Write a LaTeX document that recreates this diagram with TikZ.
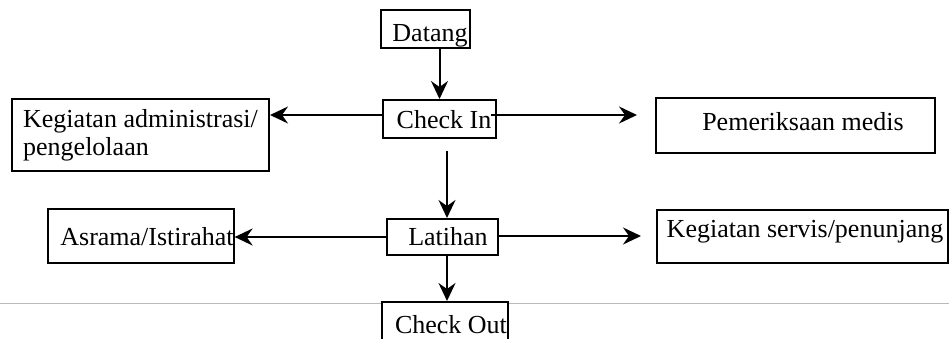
\documentclass[tikz,border=0pt]{standalone}
\usepackage{fontspec}
\setmainfont{Liberation Serif}
\usetikzlibrary{arrows.meta,calc}
% extra space in front of a label, moving it right by half the amount
\newcommand{\lblpad}[1]{\hspace*{#1}}
\begin{document}
\begin{tikzpicture}[x=1pt,y=-1pt,
  box/.style={draw, fill=white, line width=2pt, inner sep=0pt,
              font=\fontsize{26}{28}\selectfont},
  txtbase/.style={text height=#1, text depth=0pt},
  flow/.style={-{Stealth[length=18pt,width=17pt,inset=6pt]}, line width=2pt}]
\clip (0,0) rectangle (949,338);
\fill[white] (0,0) rectangle (949,338);
% page rule running across the lower part
\draw[gray!55, line width=1pt] (0,303) -- (949,303);

% boxes
\node[box, txtbase=24pt, minimum width=89pt,  minimum height=38pt] (datang)  at (425.5,29)    {\lblpad{9pt}Datang};
\node[box, txtbase=18pt, minimum width=113pt, minimum height=38pt] (checkin) at (439.5,119)   {\lblpad{9pt}Check In};
\node[box, minimum width=257pt, minimum height=72pt, align=left] (admin)  at (140.5,135)
     {Kegiatan administrasi/\\pengelolaan};
\node[box, txtbase=9pt,  minimum width=279pt, minimum height=55pt] (medis)   at (795.5,125.5) {\lblpad{15pt}Pemeriksaan medis};
\node[box, txtbase=16pt, minimum width=111pt, minimum height=36pt] (latihan) at (442.5,237)   {\lblpad{11pt}Latihan};
\node[box, txtbase=18pt, minimum width=184pt, minimum height=54pt] (asrama)  at (141,236)     {\lblpad{12pt}Asrama/Istirahat};
\node[box, txtbase=2pt,  minimum width=291pt, minimum height=53pt] (servis)  at (802.5,236.5) {\lblpad{5pt}Kegiatan servis/penunjang};
\node[box, txtbase=18pt, minimum width=126pt, minimum height=44pt] (checkout) at (445,324)    {\lblpad{12pt}Check Out};

% connectors
\draw[flow] (datang.south -| checkin) -- (checkin.north);
\draw[flow] ($(checkin.west)+(0,-4)$) -- ($(checkin.west -| admin.east)+(0,-4)$);
\draw[flow] ($(checkin.east)+(-6,-4)$) -- ($(checkin.east -| medis.west)+(-18,-4)$);
\draw[flow] ($(checkin.south)+(7.5,12)$) -- ($(latihan.north)+(4.5,0)$);
\draw[flow] (latihan.west) -- (latihan.west -| asrama.east);
\draw[flow] ($(latihan.east)+(0,-1)$) -- ($(latihan.east -| servis.west)+(-15,-1)$);
\draw[flow] ($(latihan.south)+(4.5,0)$) -- ($(checkout.north)+(2,0)$);
\end{tikzpicture}
\end{document}
